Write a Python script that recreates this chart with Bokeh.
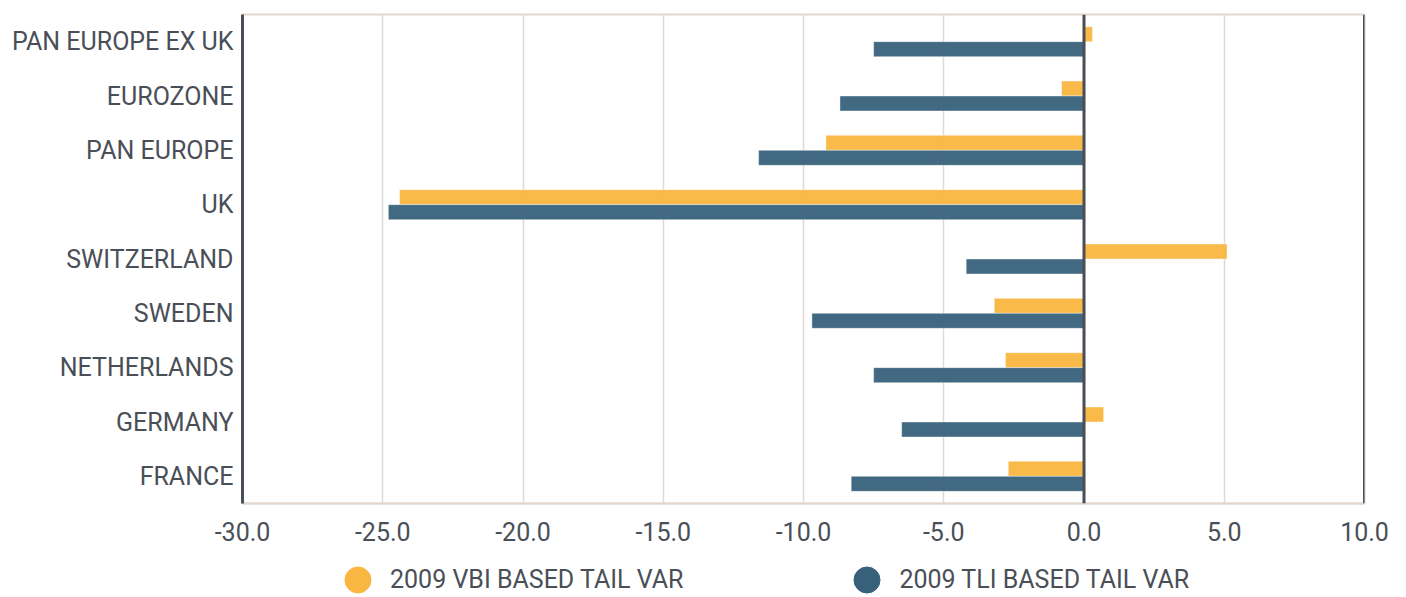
from bokeh.plotting import figure
from bokeh.layouts import column
from bokeh.models import (FactorRange, Range1d, Span, Legend, LegendItem,
                          NumeralTickFormatter, FixedTicker, ColumnDataSource)
from bokeh.transform import dodge
from bokeh.embed import file_html
from bokeh.resources import INLINE

categories = ["PAN EUROPE EX UK", "EUROZONE", "PAN EUROPE", "UK", "SWITZERLAND",
              "SWEDEN", "NETHERLANDS", "GERMANY", "FRANCE"]
vbi_tail_var = [0.3, -0.8, -9.2, -24.4, 5.1, -3.2, -2.8, 0.7, -2.7]
tli_tail_var = [-7.5, -8.7, -11.6, -24.8, -4.2, -9.7, -7.5, -6.5, -8.3]
x_ticks = [-30, -25, -20, -15, -10, -5, 0, 5, 10]
series_names = ["2009 VBI BASED TAIL VAR", "2009 TLI BASED TAIL VAR"]

ORANGE = "#f9b640"
BLUE = "#37617a"
DARK = "#4a4f57"
BEIGE = "#e2d8d0"
FONT = "Roboto"

src = ColumnDataSource(dict(cat=categories, vbi=vbi_tail_var, tli=tli_tail_var))

p = figure(y_range=FactorRange(*reversed(categories)), x_range=Range1d(x_ticks[0], x_ticks[-1]),
           width=1400, height=548, output_backend="svg", toolbar_location=None,
           min_border_left=242, min_border_right=36, min_border_top=14, min_border_bottom=45)

p.hbar(y=dodge("cat", 0.138, range=p.y_range), left=0, right="vbi", height=0.276,
       source=src, fill_color=ORANGE, fill_alpha=0.95, line_color="white", line_alpha=0.4, line_width=1)
p.hbar(y=dodge("cat", -0.138, range=p.y_range), left=0, right="tli", height=0.276,
       source=src, fill_color=BLUE, fill_alpha=0.95, line_color="white", line_alpha=0.4, line_width=1)

p.add_layout(Span(location=0, dimension="height", line_color=DARK, line_width=3))
p.add_layout(Span(location=x_ticks[-1], dimension="height", line_color=DARK, line_width=3))

p.outline_line_color = BEIGE
p.outline_line_width = 2

p.xgrid.ticker = FixedTicker(ticks=x_ticks)
p.xgrid.grid_line_color = BEIGE
p.xgrid.grid_line_width = 1.5
p.ygrid.grid_line_color = None

p.xaxis.ticker = FixedTicker(ticks=x_ticks)
p.xaxis.formatter = NumeralTickFormatter(format="0.0")
p.xaxis.axis_line_color = BEIGE
p.xaxis.axis_line_width = 2
p.xaxis.major_tick_line_color = None
p.xaxis.minor_tick_line_color = None
p.xaxis.major_label_standoff = 12
p.xaxis.major_label_text_font = FONT
p.xaxis.major_label_text_font_size = "25px"
p.xaxis.major_label_text_color = DARK

p.yaxis.axis_line_color = DARK
p.yaxis.axis_line_width = 3
p.yaxis.major_tick_line_color = None
p.yaxis.minor_tick_line_color = None
p.yaxis.major_label_standoff = 3
p.yaxis.major_label_text_font = FONT
p.yaxis.major_label_text_font_size = "25px"
p.yaxis.major_label_text_color = DARK

# legend strip
lf = figure(width=1400, height=49, output_backend="svg", toolbar_location=None,
            x_range=Range1d(0, 1), y_range=Range1d(0, 1),
            min_border_left=0, min_border_right=0, min_border_top=0, min_border_bottom=0)
lf.axis.visible = False
lf.grid.visible = False
lf.outline_line_color = None
l1 = lf.scatter(x=[float("nan")], y=[float("nan")], marker="circle", fill_color=ORANGE, line_color=ORANGE)
l2 = lf.scatter(x=[float("nan")], y=[float("nan")], marker="circle", fill_color=BLUE, line_color=BLUE)

legend = Legend(items=[LegendItem(label=series_names[0], renderers=[l1], index=0),
                       LegendItem(label=series_names[1], renderers=[l2], index=0)],
                orientation="horizontal", location=(83, -15),
                glyph_width=65, glyph_height=65, label_standoff=0, spacing=151,
                padding=0, margin=0, border_line_color=None, background_fill_alpha=0,
                label_text_font=FONT, label_text_font_size="25px", label_text_color=DARK)
lf.add_layout(legend, "center")

layout = column(p, lf, spacing=0)
open("out.html", "w").write(file_html(layout, INLINE))
